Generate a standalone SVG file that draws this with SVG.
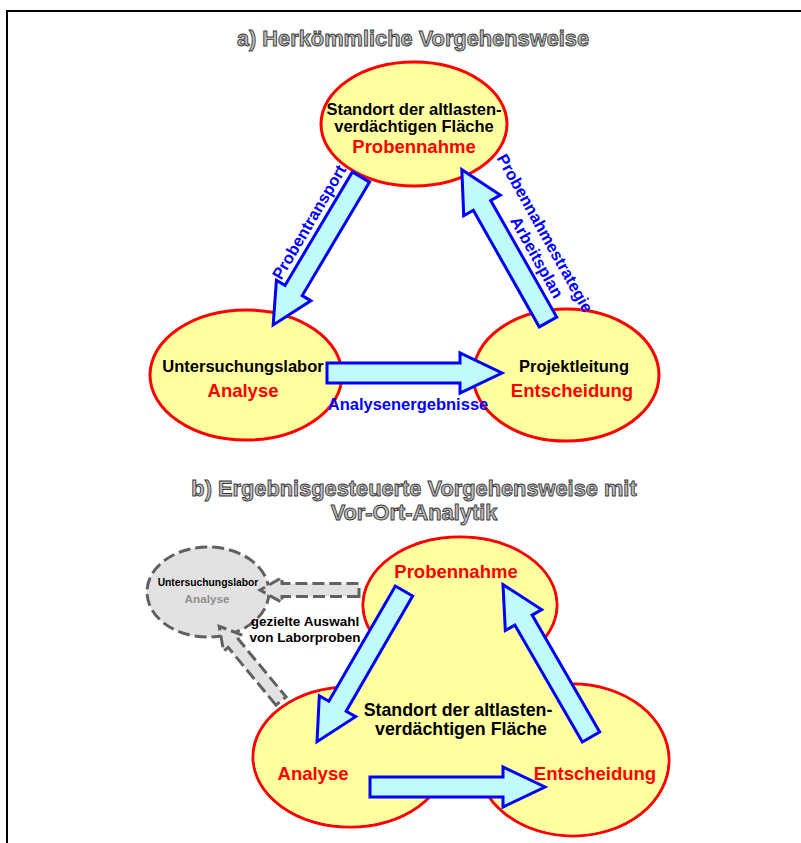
<svg xmlns="http://www.w3.org/2000/svg" width="801" height="843" viewBox="0 0 801 843">
  <style>
    text { font-family: "Liberation Sans", Arial, sans-serif; font-weight: bold; text-anchor: middle; }
    .title { font-size: 21.8px; fill: #bdbdbd; stroke: #3a3a3a; stroke-width: 0.9px; }
    .lbl { font-size: 16.5px; fill: #000; }
    .lblB { font-size: 17.8px; fill: #000; }
    .key { font-size: 18.5px; fill: #ff0000; }
    .flow { font-size: 16.5px; fill: #0000ff; }
    .node { fill: #ffffa0; stroke: #ff0000; stroke-width: 3; }
    .blob-edge { fill: none; stroke: #ff0000; stroke-width: 3; }
    .blob-fill { fill: #ffffa0; }
    .arrow { fill: #c0fafa; stroke: #0000ff; stroke-width: 3; stroke-linejoin: miter; }
    .ghost { fill: #e2e2e2; stroke: #616161; stroke-width: 3; stroke-dasharray: 12 5; }
    .ghostArrow { fill: #e2e2e2; stroke: #616161; stroke-width: 3; stroke-dasharray: 12 5; }
  </style>

  <!-- frame -->
  <path d="M7,843 V11 H801" fill="none" stroke="#000" stroke-width="2"/>

  <!-- ===== a) conventional procedure ===== -->
  <text class="title" x="413" y="46">a) Herkömmliche Vorgehensweise</text>

  <g id="a-site">
    <ellipse class="node" cx="414" cy="124" rx="93" ry="62"/>
    <text class="lbl" x="414" y="115">Standort der altlasten-</text>
    <text class="lbl" x="414" y="132">verdächtigen Fläche</text>
    <text class="key" x="414" y="153">Probennahme</text>
  </g>
  <g id="a-lab">
    <ellipse class="node" cx="246" cy="375" rx="96" ry="65"/>
    <text class="lbl" x="243" y="372">Untersuchungslabor</text>
    <text class="key" x="243" y="397">Analyse</text>
  </g>
  <g id="a-lead">
    <ellipse class="node" cx="566" cy="375" rx="93" ry="66"/>
    <text class="lbl" x="574" y="372">Projektleitung</text>
    <text class="key" x="572" y="397">Entscheidung</text>
  </g>

  <g id="a-connectors">
    <polygon class="arrow" transform="translate(361,177) rotate(120.7)" points="0,-10 132,-10 132,-20 172,0 132,20 132,10 0,10"/>
    <polygon class="arrow" transform="translate(548,322) rotate(-119.5)" points="0,-10 134,-10 134,-21 175,0 134,21 134,10 0,10"/>
    <polygon class="arrow" transform="translate(327,373)" points="0,-10 133,-10 133,-20 175,0 133,20 133,10 0,10"/>
    <text class="flow" transform="translate(314,225) rotate(-59.6)">Probentransport</text>
    <text class="flow" transform="translate(540,236) rotate(60.7)">Probennahmestrategie</text>
    <text class="flow" transform="translate(532,260) rotate(60.7)">Arbeitsplan</text>
    <text class="flow" x="408" y="410">Analysenergebnisse</text>
  </g>

  <!-- ===== b) result-driven procedure ===== -->
  <text class="title" x="414" y="496">b) Ergebnisgesteuerte Vorgehensweise mit</text>
  <text class="title" x="414" y="520">Vor-Ort-Analytik</text>

  <!-- site: three merged lobes; outline first, then fill (lobes + centre) laid over it -->
  <g id="b-site">
    <ellipse class="blob-edge" cx="460" cy="605" rx="97" ry="68"/>
    <ellipse class="blob-edge" cx="350" cy="757" rx="97" ry="70"/>
    <ellipse class="blob-edge" cx="573" cy="760" rx="96" ry="76"/>
    <ellipse class="blob-fill" cx="460" cy="605" rx="95.5" ry="66.5"/>
    <ellipse class="blob-fill" cx="350" cy="757" rx="95.5" ry="68.5"/>
    <ellipse class="blob-fill" cx="573" cy="760" rx="94.5" ry="74.5"/>
    <polygon class="blob-fill" points="376,633 542,637 570,690 520,790 420,790 342,690"/>
    <text class="lblB" x="458" y="716">Standort der altlasten-</text>
    <text class="lblB" x="461" y="735">verdächtigen Fläche</text>
  </g>
  <g id="b-sampling">
    <text class="key" x="456" y="578">Probennahme</text>
  </g>
  <g id="b-analysis">
    <text class="key" x="313" y="780">Analyse</text>
  </g>
  <g id="b-decision">
    <text class="key" x="595" y="780">Entscheidung</text>
  </g>
  <g id="b-lab">
    <ellipse class="ghost" cx="208" cy="592" rx="61" ry="45"/>
    <text x="208" y="586" style="font-size:10.3px;fill:#000">Untersuchungslabor</text>
    <text x="207" y="603" style="font-size:11.7px;fill:#8f8f8f">Analyse</text>
  </g>

  <g id="b-connectors">
    <polygon class="arrow" transform="translate(404,591) rotate(120)" points="0,-10 133,-10 133,-21 174,0 133,21 133,10 0,10"/>
    <polygon class="arrow" transform="translate(591,737) rotate(-120)" points="0,-10 135,-10 135,-21 176,0 135,21 135,10 0,10"/>
    <polygon class="arrow" transform="translate(370,787)" points="0,-10 133,-10 133,-20 175,0 133,20 133,10 0,10"/>
    <polygon class="ghostArrow" transform="translate(359,590) rotate(180)" points="0,-6.5 77,-6.5 77,-12.5 99,0 77,12.5 77,6.5 0,6.5"/>
    <polygon class="ghostArrow" transform="translate(281,701) rotate(-129.6)" points="0,-6.5 75,-6.5 75,-12.5 97,0 75,12.5 75,6.5 0,6.5"/>
    <text x="305" y="626" style="font-size:13.5px;fill:#000">gezielte Auswahl</text>
    <text x="305" y="642" style="font-size:13.5px;fill:#000">von Laborproben</text>
  </g>
</svg>
